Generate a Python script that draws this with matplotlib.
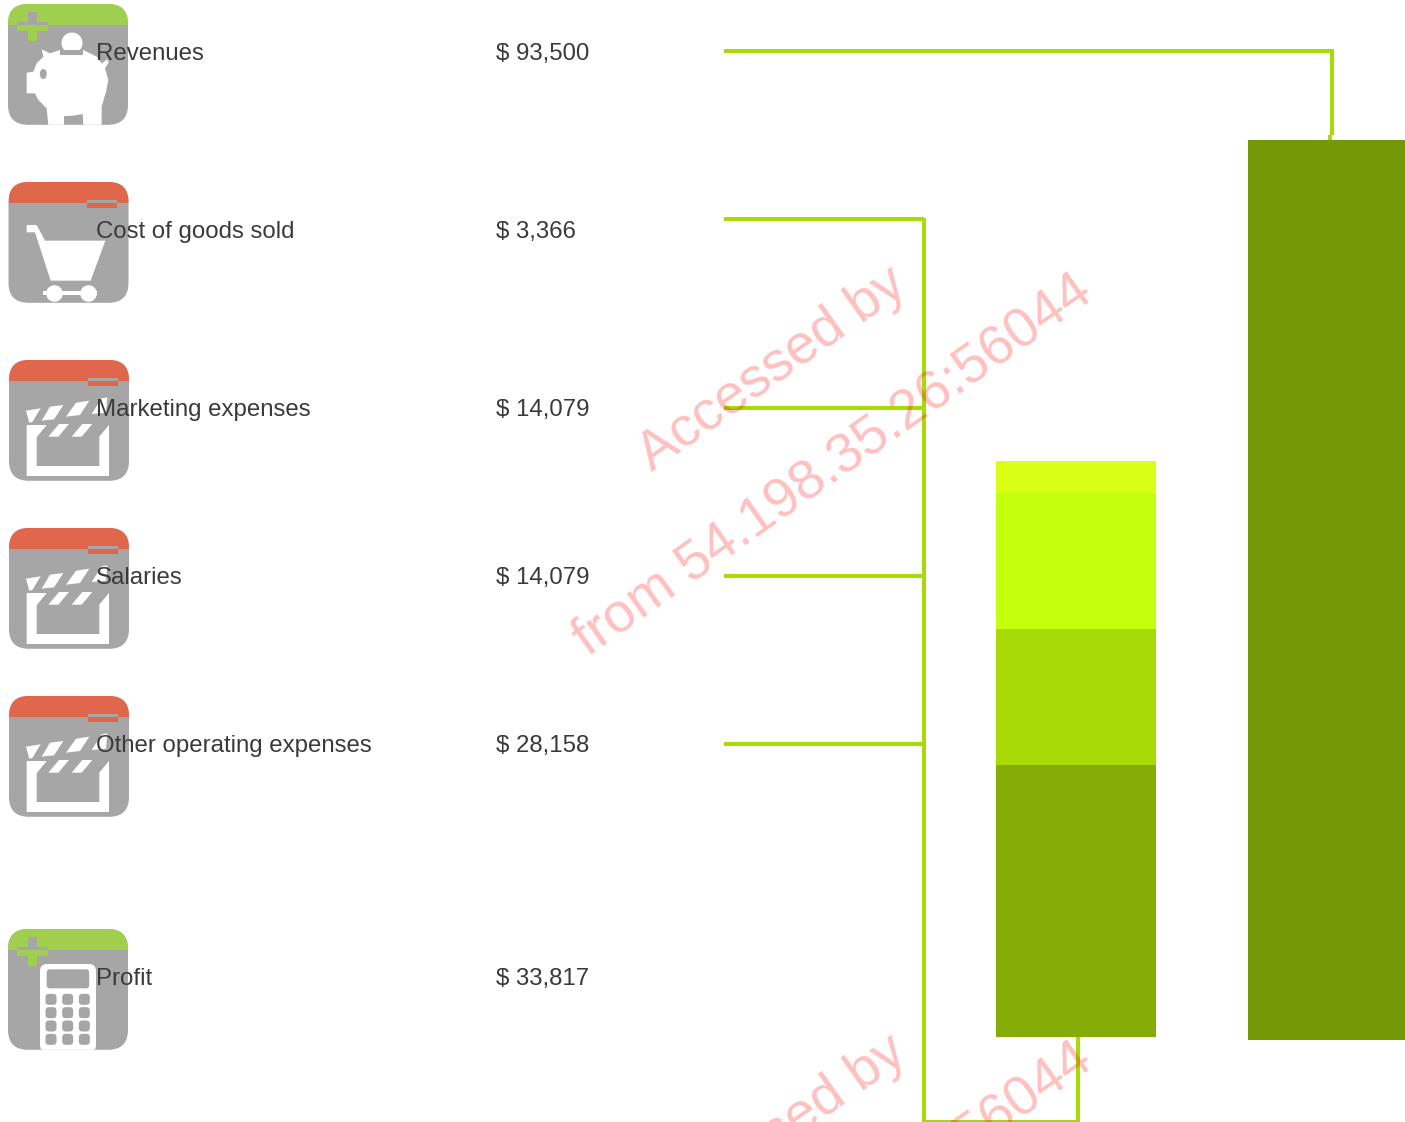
import matplotlib
matplotlib.use('Agg')
import matplotlib.pyplot as plt
from matplotlib.patches import FancyBboxPatch, Rectangle, Circle, Ellipse, Polygon

plt.rcParams['font.family'] = ['Liberation Sans', 'DejaVu Sans']

labels = ['Revenues', 'Cost of goods sold', 'Marketing expenses', 'Salaries',
          'Other operating expenses', 'Profit']
values = [93500, 3366, 14079, 14079, 28158, 33817]
text_y = [60, 238, 416, 584, 752, 985]
line_y = [51, 219, 408, 576, 744]

stack_values = [28158, 14079, 14079, 3366]
stack_colors = ['#85ad07', '#a8da07', '#c4ff0b', '#d9ff14']
revenue_value = 93500
revenue_color = '#759905'
line_color = '#a8da07'

GRAY = '#a6a6a6'
GREEN = '#a0cf50'
RED = '#e0664c'
W, H = 1405, 1122

fig = plt.figure(figsize=(W / 100, H / 100), dpi=100, facecolor='white')


def axes_px(x0, y0, x1, y1):
    return fig.add_axes([x0 / W, 1 - y1 / H, (x1 - x0) / W, (y1 - y0) / H])


# the two bars
ax_stack = axes_px(996, 461, 1156, 1037)
bottom = 0
for v, c in zip(stack_values, stack_colors):
    ax_stack.bar(0, v, width=1, bottom=bottom, color=c, linewidth=0)
    bottom += v
ax_stack.set_xlim(-0.5, 0.5)
ax_stack.set_ylim(0, bottom)
ax_stack.axis('off')

ax_rev = axes_px(1248, 140, 1405, 1040)
ax_rev.bar(0, revenue_value, width=1, color=revenue_color, linewidth=0)
ax_rev.set_xlim(-0.5, 0.5)
ax_rev.set_ylim(0, revenue_value)
ax_rev.axis('off')

# everything else sits on a pixel overlay
ax = fig.add_axes([0, 0, 1, 1], zorder=5)
ax.set_xlim(0, W)
ax.set_ylim(H, 0)
ax.axis('off')
ax.patch.set_alpha(0)


def icon_base(ox, oy, band):
    base = FancyBboxPatch((ox + 20, oy + 20), 80, 80.8, boxstyle='round,pad=20,rounding_size=20',
                          fc=GRAY, ec='none', zorder=2)
    ax.add_patch(base)
    top = Rectangle((ox, oy), 120, 21, fc=band, ec='none', zorder=2.1)
    ax.add_patch(top)
    top.set_clip_path(base)
    return base


def add(p, clip):
    ax.add_patch(p)
    p.set_clip_path(clip)


def plus_sign(ox, oy, clip):
    for x, y, w, h in [(20, 8, 9, 29), (9, 18, 31, 9)]:
        y2 = min(y + h, 21)
        add(Rectangle((ox + x, oy + y), w, y2 - y, fc=GRAY, ec='none', zorder=2.2), clip)
        add(Rectangle((ox + x, oy + y2), w, y + h - y2, fc=GREEN, ec='none', zorder=2.2), clip)


def minus_sign(ox, oy, clip):
    add(Rectangle((ox + 78.5, oy + 18), 30, 3, fc=GRAY, ec='none', zorder=2.2), clip)
    add(Rectangle((ox + 78.5, oy + 21), 30, 5, fc=RED, ec='none', zorder=2.2), clip)


def poly(ox, oy, pts, clip, color='white', z=3):
    # pts read from the icon at 3x zoom, (zx, zy) are page pixels * 3
    add(Polygon([(x / 3 + ox, y / 3 + oy) for x, y in pts], closed=True, fc=color, ec='none', zorder=z), clip)


def piggy(ox, oy, clip):
    dx, dy = ox - 8, oy - 4
    add(Circle((72 + dx, 43 + dy), 10.5, fc='white', ec='none', zorder=3), clip)
    poly(dx, dy, [(125, 148), (150, 160), (180, 150), (250, 150), (290, 170), (305, 190), (322, 178), (326, 188),
                  (315, 205), (325, 240), (318, 275), (305, 320), (305, 376), (250, 376), (248, 342), (220, 347),
                  (192, 348), (192, 376), (145, 376), (140, 325), (115, 300), (105, 280), (80, 280), (80, 218),
                  (100, 215), (110, 190), (130, 170)], clip)
    poly(dx, dy, [(180, 150), (250, 150), (250, 165), (180, 165)], clip, GRAY, 3.1)
    add(Ellipse((43.3 + dx, 74 + dy), 7, 10, fc=GRAY, ec='none', zorder=3.1), clip)


def cart(ox, oy, clip):
    dx, dy = ox - 8.5, oy - 182
    poly(dx, dy, [(80, 675), (110, 675), (135, 722), (316, 722), (272, 842), (152, 842), (105, 697), (80, 697)], clip)
    poly(dx, dy, [(130, 873), (292, 873), (292, 886), (130, 886)], clip)
    add(Circle((54.5 + dx, 293.5 + dy), 8.3, fc='white', ec='none', zorder=3), clip)
    add(Circle((88.5 + dx, 293.5 + dy), 8.3, fc='white', ec='none', zorder=3), clip)


def clapper(ox, oy, clip):
    dx = ox - 9
    dy = oy - 360 + 350
    poly(dx, dy, [(80, 225), (140, 225), (110, 262), (110, 348), (298, 348), (298, 260), (327, 225), (327, 378),
                  (80, 378)], clip)
    for pts in ([(145, 260), (177, 222), (207, 222), (175, 260)],
                [(215, 260), (247, 222), (277, 222), (245, 260)],
                [(78, 182), (122, 175), (97, 216), (88, 218)],
                [(150, 170), (190, 165), (162, 208), (125, 212)],
                [(228, 158), (268, 152), (240, 195), (198, 200)],
                [(305, 145), (322, 142), (318, 188), (275, 192)]):
        poly(dx, dy, pts, clip)


def calculator(ox, oy, clip):
    dx, dy = ox - 8, oy - 929 + 920
    add(FancyBboxPatch((120 / 3 + 7 + dx, 132 / 3 + 7 + dy), 42, 74, boxstyle='round,pad=7,rounding_size=7',
                       fc='white', ec='none', zorder=3), clip)
    add(FancyBboxPatch((140 / 3 + 3 + dx, 148 / 3 + 3 + dy), 36.5, 13, boxstyle='round,pad=3,rounding_size=3',
                       fc=GRAY, ec='none', zorder=3.1), clip)
    for cx in [153, 203, 253]:
        for cy in [238, 278, 318, 358]:
            add(FancyBboxPatch((cx / 3 + dx - 2.5, cy / 3 + dy - 2.5), 5, 5, boxstyle='round,pad=3,rounding_size=3.5',
                               fc=GRAY, ec='none', zorder=3.1), clip)


icons = [(8, 4, 'plus', piggy), (8.5, 182, 'minus', cart), (9, 360, 'minus', clapper),
         (9, 528, 'minus', clapper), (9, 696, 'minus', clapper), (8, 929, 'plus', calculator)]
for ox, oy, sign, draw in icons:
    clip = icon_base(ox, oy, GREEN if sign == 'plus' else RED)
    draw(ox, oy, clip)
    if sign == 'plus':
        plus_sign(ox, oy, clip)
    else:
        minus_sign(ox, oy, clip)

# row labels
for lab, val, y in zip(labels, values, text_y):
    ax.text(96, y, lab, fontsize=17.28, color='#3a3a3a', va='baseline', zorder=4)
    ax.text(496, y, '$ {:,}'.format(val), fontsize=17.28, color='#3a3a3a', va='baseline', zorder=4)

# connectors
lw = 2.88
ax.plot([724, 1332, 1332], [line_y[0], line_y[0], 135], color=line_color, lw=lw, solid_joinstyle='miter',
        solid_capstyle='butt', zorder=1)
ax.plot([1330, 1330], [135, 140], color=line_color, lw=lw, solid_capstyle='butt', zorder=1)
for y in line_y[1:]:
    ax.plot([724, 924], [y, y], color=line_color, lw=lw, solid_capstyle='butt', zorder=1)
ax.plot([924, 924, 1078, 1078], [218, 1122, 1122, 1037], color=line_color, lw=lw, solid_joinstyle='miter',
        solid_capstyle='butt', zorder=1)

# watermark, repeats down the page
for off in [0, 768]:
    ax.text(652, 472 + off, 'Accessed by', fontsize=40, color='red', alpha=0.25, rotation=35.3,
            rotation_mode='anchor', ha='left', va='baseline', zorder=6, clip_on=True)
    ax.text(588, 657 + off, 'from 54.198.35.26:56044', fontsize=40, color='red', alpha=0.25, rotation=35.3,
            rotation_mode='anchor', ha='left', va='baseline', zorder=6, clip_on=True)

fig.savefig('out.png', dpi=100)
